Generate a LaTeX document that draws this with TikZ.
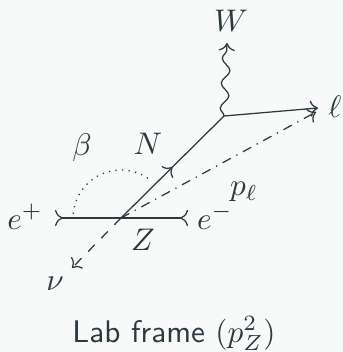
\documentclass[tikz,border=0pt]{standalone}
\usetikzlibrary{arrows.meta,decorations.pathmorphing,decorations.markings}
\definecolor{ink}{HTML}{2B3A3F}
\definecolor{bg}{HTML}{F8F9F9}
\begin{document}
\begin{tikzpicture}[x=0.32pt,y=-0.32pt,
  every node/.style={text=ink,inner sep=0pt},
  line/.style={draw=ink,line width=0.4pt},
  tip/.style={-{To}},
  midarrow/.style={postaction={decorate},decoration={markings,mark=at position 0.5 with {\arrow{To}}}}]
\fill[bg] (0,0) rectangle (343,352);
\useasboundingbox (0,0) rectangle (343,352);
% vertices and ends
\coordinate (Z) at (121,218);
\coordinate (V) at (224,116);
\coordinate (Wt) at (227,43);
\coordinate (Lt) at (318,108);
\coordinate (Pt) at (316,112);
\coordinate (Nu) at (72,268);
\coordinate (Ep) at (55,218);
\coordinate (Em) at (188,218);
% lines
\draw[line,{To[reversed]}-{To[reversed]}] (Ep) -- (Em);
\draw[line,midarrow] (Z) -- (V);
\draw[line,tip] (V) -- (Lt);
\draw[line,tip,dashdotted] (Z) -- (Pt);
\draw[line,tip,dashed] (Z) -- (Nu);
\draw[line,tip,decorate,decoration={snake,amplitude=1.3pt,segment length=8pt,post length=2pt}] (V) -- (Wt);
\draw[line,dash pattern=on 0.4pt off 1.7pt] ([shift={(-175:48)}]Z) arc[start angle=-175,end angle=-50,radius=48];
% labels
\node[anchor=base] (lep) at (25,229) {$e^+$};
\node[anchor=base] (lem) at (215,229) {$e^-$};
\node[anchor=base] (lZ) at (143,250) {$Z$};
\node[anchor=base] (lN) at (148,155) {$N$};
\node[anchor=base] (lb) at (82,156) {$\beta$};
\node[anchor=base] (lnu) at (55,290) {$\nu$};
\node[anchor=base] (lp) at (244,196) {$p_\ell$};
\node[anchor=base] (ll) at (335,118) {$\ell$};
\node[anchor=base] (lW) at (231,32) {$W$};
\node[anchor=base,font=\sffamily] (cap) at (174,342) {Lab frame $(p_Z^2)$};
\end{tikzpicture}
\end{document}
